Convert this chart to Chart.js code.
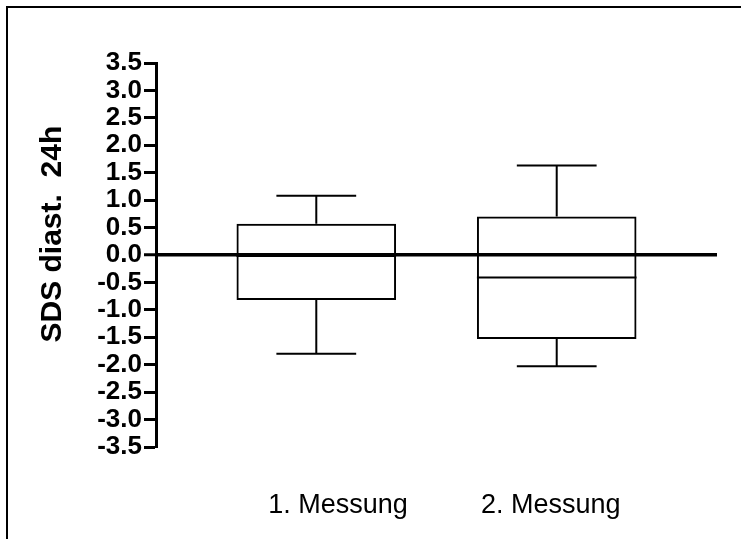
<!DOCTYPE html>
<html>
<head>
<meta charset="utf-8">
<title>SDS diast. 24h</title>
<script src="https://cdn.jsdelivr.net/npm/chart.js@4/dist/chart.umd.min.js"></script>
<style>
    html, body { margin: 0; padding: 0; background: #fff; }
    #wrap { position: relative; width: 741px; height: 539px; }
    #frame {
        position: absolute; left: 6px; top: 6px; right: -10px; bottom: -10px;
        border-top: 2px solid #000; border-left: 2px solid #000;
        pointer-events: none;
    }
</style>
</head>
<body>
<div id="wrap">
    <canvas id="boxChart" width="741" height="539"></canvas>
    <div id="frame"></div>
</div>
<script>
// Box plot values per measurement
const categories = ['1. Messung', '2. Messung'];
const positions = [1, 2];
const whiskerMin = [-1.80, -2.03];
const quartile1 = [-0.82, -1.53];
const medians = [-0.02, -0.41];
const quartile3 = [0.57, 0.70];
const whiskerMax = [1.08, 1.63];
const yTicks = [-3.5, -3.0, -2.5, -2.0, -1.5, -1.0, -0.5, 0.0, 0.5, 1.0, 1.5, 2.0, 2.5, 3.0, 3.5];

// labels in the original sit a little off the box centres
const labelShift = [0.09, -0.025];

const FONT = '"Liberation Sans", Arial, sans-serif';

// whiskers and median lines drawn from the bar elements
const boxWhiskers = {
    id: 'boxWhiskers',
    afterDatasetsDraw(chart) {
        const ctx = chart.ctx;
        const y = chart.scales.y;
        const meta = chart.getDatasetMeta(0);
        ctx.save();
        ctx.strokeStyle = '#000';
        ctx.lineWidth = 2;
        meta.data.forEach((bar, i) => {
            const cx = bar.x;
            const half = bar.width / 2;
            const cap = bar.width / 4;
            const pMed = y.getPixelForValue(medians[i]);
            const pQ1 = y.getPixelForValue(quartile1[i]);
            const pQ3 = y.getPixelForValue(quartile3[i]);
            const pMin = y.getPixelForValue(whiskerMin[i]);
            const pMax = y.getPixelForValue(whiskerMax[i]);
            ctx.beginPath();
            ctx.moveTo(cx - half, pMed); ctx.lineTo(cx + half, pMed);
            ctx.moveTo(cx, pQ3); ctx.lineTo(cx, pMax);
            ctx.moveTo(cx - cap, pMax); ctx.lineTo(cx + cap, pMax);
            ctx.moveTo(cx, pQ1); ctx.lineTo(cx, pMin);
            ctx.moveTo(cx - cap, pMin); ctx.lineTo(cx + cap, pMin);
            ctx.stroke();
        });
        ctx.restore();
    }
};

const ctx = document.getElementById('boxChart').getContext('2d');
new Chart(ctx, {
    type: 'bar',
    data: {
        datasets: [{
            data: positions.map((p, i) => ({ x: p, y: [quartile1[i], quartile3[i]] })),
            backgroundColor: 'rgba(0,0,0,0)',
            borderColor: '#000',
            borderWidth: 2,
            borderSkipped: false,
            categoryPercentage: 1,
            barPercentage: 0.75
        }]
    },
    options: {
        responsive: false,
        animation: false,
        layout: { padding: { top: 63, right: 24, bottom: 0, left: 0 } },
        plugins: {
            legend: { display: false },
            tooltip: { enabled: false }
        },
        scales: {
            x: {
                type: 'linear',
                offset: false,
                min: 1 / 3,
                max: 8 / 3,
                afterBuildTicks: scale => {
                    scale.ticks = positions.map((p, i) => ({ value: p + labelShift[i] }));
                },
                afterFit: scale => { scale.height = 92; },
                ticks: {
                    autoSkip: false,
                    maxRotation: 0,
                    padding: 42,
                    color: '#000',
                    font: { family: FONT, size: 27 },
                    callback: (v, i) => categories[i]
                },
                grid: { display: false, drawTicks: false, offset: false },
                border: { display: false }
            },
            y: {
                min: -3.5,
                max: 3.5,
                afterBuildTicks: scale => {
                    scale.ticks = yTicks.map(v => ({ value: v }));
                },
                afterFit: scale => { scale.width = 156; },
                ticks: {
                    autoSkip: false,
                    padding: 2,
                    color: '#000',
                    font: { family: FONT, size: 26, weight: 'bold' },
                    callback: v => v.toFixed(1)
                },
                grid: {
                    drawOnChartArea: true,
                    color: c => (c.tick && c.tick.value === 0) ? '#000' : 'rgba(0,0,0,0)',
                    lineWidth: c => (c.tick && c.tick.value === 0) ? 3.5 : 1,
                    tickColor: '#000',
                    tickWidth: 3,
                    tickLength: 12
                },
                border: { display: true, color: '#000', width: 3 },
                title: {
                    display: true,
                    // leading spaces lift the title like in the original
                    text: '     SDS diast.  24h',
                    color: '#000',
                    padding: { top: 35, bottom: 0 },
                    font: { family: FONT, size: 30, weight: 'bold' }
                }
            }
        }
    },
    plugins: [boxWhiskers]
});
</script>
</body>
</html>
